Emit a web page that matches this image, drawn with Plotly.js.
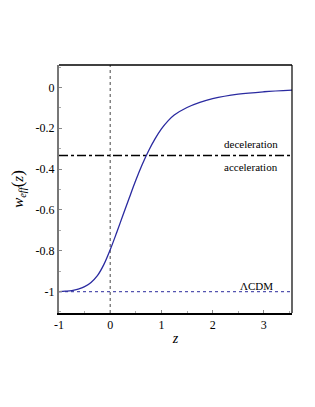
<!DOCTYPE html>
<html>
<head>
<meta charset="utf-8">
<script src="https://cdn.plot.ly/plotly-3.0.1.min.js"></script>
<style>html,body{margin:0;padding:0;background:#fff;}#chart{width:315px;height:407px;}</style>
</head>
<body>
<div id="chart"></div>
<script>
// curve
const zVals = [-1, -0.875, -0.75, -0.625, -0.5, -0.375, -0.25, -0.125, 0, 0.125, 0.25, 0.375, 0.5, 0.625, 0.75, 0.875, 1.0, 1.125, 1.25, 1.5, 1.75, 2.0, 2.5, 3.0, 3.55];
const wVals = [-1, -0.998, -0.995, -0.988, -0.976, -0.955, -0.922, -0.868, -0.795, -0.712, -0.625, -0.539, -0.455, -0.378, -0.31, -0.252, -0.203, -0.165, -0.135, -0.098, -0.073, -0.055, -0.033, -0.021, -0.013];

const xTickVals = [-1, 0, 1, 2, 3];
const xTickText = ['-1', '0', '1', '2', '3'];
const yTickVals = [0, -0.2, -0.4, -0.6, -0.8, -1];
const yTickText = ['0', '-0.2', '-0.4', '-0.6', '-0.8', '-1'];

const transitionW = -1/3;
const lcdmW = -1;
const xRange = [-1, 3.55];
const yRange = [-1.105, 0.11];

const labels = [
  {text: 'deceleration', x: 3.31, y: -0.275},
  {text: 'acceleration', x: 3.31, y: -0.39},
  {text: 'ΛCDM', x: 3.22, y: -0.972}
];

const serif = 'Liberation Serif';

const traces = [
  {x: [0, 0], y: yRange, mode: 'lines', line: {color: '#666', width: 1.2, dash: 'dot'}, hoverinfo: 'skip'},
  {x: xRange, y: [lcdmW, lcdmW], mode: 'lines', line: {color: '#5555b0', width: 1.3, dash: 'dot'}, hoverinfo: 'skip'},
  {x: xRange, y: [transitionW, transitionW], mode: 'lines', line: {color: '#000', width: 1.4, dash: 'dashdot'}, hoverinfo: 'skip'},
  {x: zVals, y: wVals, mode: 'lines', line: {color: '#2a2aa0', width: 1.3, shape: 'spline', smoothing: 1}}
];

const layout = {
  width: 315, height: 407,
  margin: {l: 59, r: 23, t: 65, b: 94},
  paper_bgcolor: '#fff', plot_bgcolor: '#fff',
  showlegend: false,
  font: {family: serif, size: 11, color: '#000'},
  xaxis: {
    range: xRange, tickvals: xTickVals, ticktext: xTickText,
    showgrid: false, zeroline: false,
    showline: true, linecolor: '#000', linewidth: 1.5,
    ticks: 'inside', ticklen: 3, tickcolor: '#888', tickwidth: 1,
    minor: {dtick: 0.5, tick0: -1, ticks: 'inside', ticklen: 2, tickcolor: '#aaa'},
    tickfont: {family: serif, size: 12},
    title: {text: '<i>z</i>', font: {family: serif, size: 14}, standoff: 2}
  },
  yaxis: {
    range: yRange, tickvals: yTickVals, ticktext: yTickText,
    showgrid: false, zeroline: false,
    showline: true, linecolor: '#777', linewidth: 2,
    ticks: 'inside', ticklen: 3, tickcolor: '#888', tickwidth: 1,
    minor: {dtick: 0.1, tick0: 0, ticks: 'inside', ticklen: 2, tickcolor: '#aaa'},
    tickfont: {family: serif, size: 12},
    title: {text: '<i>w</i><sub><i>eff</i></sub><span style="font-size:17px">(</span><i>z</i><span style="font-size:17px">)</span>', font: {family: serif, size: 15}, standoff: 8}
  },
  shapes: [
    {type: 'line', xref: 'paper', yref: 'paper', x0: 0, x1: 1, y0: 1, y1: 1, line: {color: '#000', width: 1.5}},
    {type: 'line', xref: 'paper', yref: 'paper', x0: 1, x1: 1, y0: 0, y1: 1, line: {color: '#000', width: 1.2}}
  ],
  annotations: labels.map(l => ({
    text: l.text, x: l.x, y: l.y, xref: 'x', yref: 'y',
    xanchor: 'right', yanchor: 'middle', showarrow: false,
    font: {family: serif, size: 11, color: '#000'}
  }))
};

Plotly.newPlot('chart', traces, layout, {displayModeBar: false, staticPlot: true});
</script>
</body>
</html>
